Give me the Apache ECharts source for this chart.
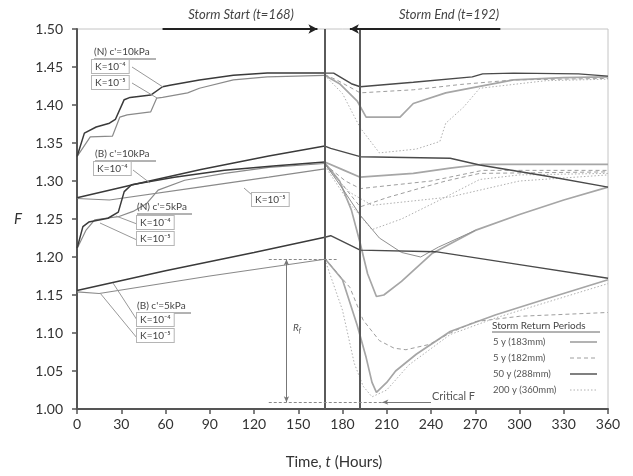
<!DOCTYPE html>
<html><head><meta charset="utf-8">
<script src="https://cdn.jsdelivr.net/npm/echarts@6/dist/echarts.min.js"></script>
<style>html,body{margin:0;padding:0;background:#fff}#c{width:633px;height:476px}</style>
</head><body><div id="c"></div>
<script>
// ---- axes ----
const xMin = 0, xMax = 360, xStep = 30;
const yMin = 1.0, yMax = 1.5, yStep = 0.05;
const stormStart = 168, stormEnd = 192;
const stormNames = ['5 y (183mm)', '5 y (182mm)', '50 y (288mm)', '200 y (360mm)'];

// ---- pre-storm (t = 0..168) ----
const n10K4 = [[0,1.332],[5,1.363],[13,1.371],[22,1.376],[26,1.381],[32,1.407],[36,1.410],[50,1.413],[58,1.424],[63,1.426],[83,1.433],[106,1.439],[129,1.442],[168,1.442]];
const n10K5 = [[0,1.332],[9,1.358],[24,1.359],[29,1.384],[34,1.387],[50,1.391],[54,1.409],[58,1.410],[75,1.416],[83,1.422],[106,1.433],[129,1.437],[168,1.439]];
const b10K4 = [[0,1.278],[40,1.296],[84,1.315],[130,1.333],[168,1.346]];
const b10K5 = [[0,1.277],[22,1.275],[83,1.292],[130,1.305],[168,1.316]];
const n5K4 = [[0,1.211],[4,1.240],[8,1.246],[21,1.251],[28,1.259],[32,1.286],[37,1.295],[66,1.305],[100,1.314],[135,1.320],[168,1.325]];
const n5K5 = [[0,1.211],[6,1.235],[12,1.249],[28,1.253],[38,1.260],[47,1.270],[55,1.288],[73,1.301],[100,1.310],[130,1.318],[168,1.323]];
const b5K4 = [[0,1.156],[60,1.182],[120,1.206],[168,1.226]];
const b5K5 = [[0,1.154],[15,1.152],[90,1.175],[168,1.197]];

// ---- post-storm (t = 168..360) ----
const n10S288 = [[168,1.442],[174,1.442],[186,1.428],[192,1.424],[228,1.430],[268,1.437],[275,1.441],[296,1.442],[340,1.441],[360,1.438]];
const n10S182 = [[168,1.440],[176,1.433],[192,1.416],[228,1.420],[260,1.427],[296,1.433],[360,1.435]];
const n10S183 = [[168,1.439],[178,1.428],[190,1.405],[196,1.384],[219,1.384],[228,1.402],[250,1.416],[296,1.433],[330,1.436],[360,1.437]];
const n10S360 = [[168,1.439],[180,1.415],[192,1.370],[205,1.337],[230,1.342],[246,1.352],[250,1.376],[262,1.397],[273,1.422],[318,1.432],[360,1.434]];

const b10S288 = [[168,1.346],[172,1.343],[192,1.332],[253,1.330],[273,1.321],[320,1.306],[360,1.292]];
const b10S183 = [[168,1.325],[180,1.315],[192,1.305],[228,1.310],[253,1.317],[275,1.322],[360,1.322]];
const b10S182 = [[168,1.322],[182,1.300],[192,1.290],[240,1.300],[275,1.314],[360,1.314]];
const b10S360 = [[168,1.320],[185,1.285],[200,1.268],[253,1.279],[300,1.300],[360,1.308]];

const n5S183 = [[168,1.324],[178,1.300],[186,1.262],[192,1.218],[197,1.178],[203,1.148],[208,1.150],[220,1.168],[241,1.205],[270,1.235],[300,1.256],[330,1.275],[360,1.292]];
const n5S288 = [[168,1.323],[180,1.290],[192,1.255],[205,1.225],[220,1.206],[233,1.200],[245,1.213],[270,1.235]];
const n5S182 = [[168,1.322],[180,1.295],[192,1.266],[210,1.278],[228,1.288],[250,1.300],[273,1.310],[360,1.312]];
const n5S360 = [[168,1.320],[185,1.270],[200,1.236],[220,1.250],[246,1.275],[273,1.302],[300,1.308],[360,1.310]];

const b5S288 = [[168,1.226],[172,1.228],[192,1.209],[243,1.207],[300,1.190],[360,1.172]];
const b5S183 = [[168,1.198],[180,1.170],[190,1.110],[196,1.068],[200,1.035],[203,1.022],[210,1.035],[216,1.050],[230,1.072],[253,1.102],[284,1.124],[320,1.146],[360,1.170]];
const b5S182 = [[168,1.198],[185,1.160],[194,1.117],[205,1.090],[215,1.080],[223,1.078],[239,1.085],[253,1.100],[270,1.115],[300,1.122],[360,1.127]];
const b5S360 = [[168,1.197],[180,1.130],[188,1.060],[194,1.030],[200,1.016],[210,1.025],[225,1.058],[253,1.098],[284,1.120],[360,1.165]];

// annotation values
const rfTop = 1.197, criticalF = 1.009, rfT = 142;

const FONT = 'Lato, "DejaVu Sans", sans-serif';
const ST = {
  k4:   {color:'#3a3a3a', width:1.5, type:'solid'},
  k5:   {color:'#8a8a8a', width:1.2, type:'solid'},
  s183: {color:'#a6a6a6', width:1.7, type:'solid'},
  s182: {color:'#9e9e9e', width:1, type:[4,3]},
  s288: {color:'#4a4a4a', width:1.4, type:'solid'},
  s288g:{color:'#8f8f8f', width:1, type:'solid'},
  s360: {color:'#b0b0b0', width:1, type:[1.5,2]}
};
function ln(name, data, st, z) {
  return {name, type:'line', data, symbol:'none', showSymbol:false, smooth:false,
    lineStyle:{color:st.color, width:st.width, type:st.type}, itemStyle:{color:st.color},
    z: z || 2, silent:true, animation:false};
}

const series = [
  ln('b5S183', b5S183, ST.s183), ln('n5S183', n5S183, ST.s183), ln('n10S183', n10S183, ST.s183), ln('b10S183', b10S183, ST.s183),
  ln('b5S182', b5S182, ST.s182), ln('n5S182', n5S182, ST.s182), ln('n10S182', n10S182, ST.s182), ln('b10S182', b10S182, ST.s182),
  ln('b5S360', b5S360, ST.s360), ln('n5S360', n5S360, ST.s360), ln('n10S360', n10S360, ST.s360), ln('b10S360', b10S360, ST.s360),
  ln('n5S288', n5S288, ST.s288g),
  ln('b5S288', b5S288, ST.s288, 3), ln('n10S288', n10S288, ST.s288, 3), ln('b10S288', b10S288, ST.s288, 3),
  ln('n10K5', n10K5, ST.k5), ln('b10K5', b10K5, ST.k5), ln('n5K5', n5K5, ST.k5), ln('b5K5', b5K5, ST.k5),
  ln('n10K4', n10K4, ST.k4, 3), ln('b10K4', b10K4, ST.k4, 3), ln('n5K4', n5K4, ST.k4, 3),
  Object.assign(ln('b5K4', b5K4, ST.k4, 3), {
    markLine: {
      silent:true, animation:false, symbol:'none', label:{show:false},
      lineStyle:{color:'#5a5a5a', width:2, type:'solid'},
      data: [
        {xAxis: stormStart}, {xAxis: stormEnd},
        [{coord:[58, yMax], symbol:'none', lineStyle:{color:'#222', width:2}}, {coord:[163, yMax], symbol:'arrow', symbolSize:[7,9]}],
        [{coord:[287, yMax], symbol:'none', lineStyle:{color:'#222', width:2}}, {coord:[185, yMax], symbol:'arrow', symbolSize:[7,9]}],
        [{coord:[rfT, rfTop], symbol:'arrow', symbolSize:[4,6], lineStyle:{color:'#777', width:1}}, {coord:[rfT, criticalF], symbol:'arrow', symbolSize:[4,6]}],
        [{coord:[130, rfTop], lineStyle:{color:'#888', width:1, type:[3,2]}}, {coord:[176, rfTop]}],
        [{coord:[130, criticalF], lineStyle:{color:'#888', width:1, type:[3,2]}}, {coord:[207, criticalF]}],
        [{coord:[207, criticalF], symbol:'arrow', symbolSize:[4,6], lineStyle:{color:'#777', width:1}}, {coord:[240, criticalF], symbol:'none'}]
      ]
    }
  })
];

const chart = echarts.init(document.getElementById('c'), null, {renderer:'canvas'});
function T(x, y, text, extra) {
  return {type:'text', x, y, silent:true, z:100,
    style: Object.assign({text, font:'10px ' + FONT, fill:'#444'}, extra || {})};
}
function L(x1, y1, x2, y2, color, w, dash) {
  const st = {stroke: color || '#999', lineWidth: w || 1};
  if (dash) st.lineDash = dash;
  return {type:'line', silent:true, z:99, shape:{x1, y1, x2, y2}, style:st};
}
const boxStyle = {backgroundColor:'#fff', borderColor:'#b5b5b5', borderWidth:1, padding:[2,3,1,3], font:'10px ' + FONT, fill:'#444'};
const graphics = [
  T(241, 15, 'Storm Start (t=168)', {font:'italic 13px ' + FONT, fill:'#444', align:'center', verticalAlign:'middle'}),
  T(449, 15, 'Storm End (t=192)', {font:'italic 13px ' + FONT, fill:'#444', align:'center', verticalAlign:'middle'}),
  // (N) c'=10kPa
  L(132, 67, 163, 87), L(132, 83, 157, 98),
  T(94, 47, "(N) c'=10kPa", {font:'10px ' + FONT}), L(94, 59, 156, 59, '#666'),
  T(92, 60, 'K=10⁻⁴', boxStyle), T(92, 76, 'K=10⁻⁵', boxStyle),
  // (B) c'=10kPa
  L(133, 170, 150, 183),
  T(95, 149, "(B) c'=10kPa", {font:'10px ' + FONT}), L(95, 161, 156, 161, '#666'),
  T(94, 162, 'K=10⁻⁴', boxStyle),
  // K=10^-5 (B)
  L(252, 195, 244, 188),
  T(252, 193, 'K=10⁻⁵', boxStyle),
  // (N) c'=5kPa
  L(137, 224, 116, 216), L(137, 240, 100, 223),
  T(137, 202, "(N) c'=5kPa", {font:'10px ' + FONT}), L(137, 214, 192, 214, '#666'),
  T(137, 216, 'K=10⁻⁴', boxStyle), T(137, 232, 'K=10⁻⁵', boxStyle),
  // (B) c'=5kPa
  L(137, 320, 113, 283), L(137, 338, 100, 293),
  T(137, 301, "(B) c'=5kPa", {font:'10px ' + FONT}), L(137, 313, 191, 313, '#666'),
  T(137, 313, 'K=10⁻⁴', boxStyle), T(137, 329, 'K=10⁻⁵', boxStyle),
  // Rf and Critical F
  {type:'text', x:293, y:322, silent:true, z:100, style:{text:'{i|R}{s|f}', rich:{i:{font:'italic 10px ' + FONT, fill:'#555'}, s:{font:'italic 7px ' + FONT, fill:'#555', padding:[5,0,0,0]}}}},
  T(432, 391, 'Critical F', {font:'11px ' + FONT, fill:'#555'}),
  // legend
  T(492, 321, 'Storm Return Periods', {font:'10px ' + FONT, fill:'#444'}), L(492, 332, 600, 332, '#666'),
  // axis names
  T(18, 219, 'F', {font:'italic 15px ' + FONT, fill:'#333', align:'center', verticalAlign:'middle'}),
  {type:'text', x:334, y:462, silent:true, z:100, style:{text:'{n|Time, }{i|t}{n| (Hours)}', align:'center', verticalAlign:'middle',
    rich:{n:{font:'15px ' + FONT, fill:'#333'}, i:{font:'italic 15px ' + FONT, fill:'#333'}}}}
];
// legend rows: name + line sample in that storm's style
const legendStyles = [ST.s183, ST.s182, ST.s288, ST.s360];
const legendRowY = [342, 358, 374, 390];
stormNames.forEach((nm, i) => {
  const st = legendStyles[i];
  graphics.push(T(493, legendRowY[i], nm, {font:'9.5px ' + FONT, fill:'#555', verticalAlign:'middle'}));
  graphics.push(L(570, legendRowY[i], 597, legendRowY[i], st.color, st.width, Array.isArray(st.type) ? st.type : null));
});

chart.setOption({
  animation:false,
  backgroundColor:'#fff',
  textStyle:{fontFamily: FONT},
  grid:{left:77, right:25, top:29, bottom:67, show:true, borderColor:'#c4c4c4', borderWidth:1},
  xAxis:{type:'value', min:xMin, max:xMax, interval:xStep,
    axisLine:{show:true, onZero:false, lineStyle:{color:'#555', width:2}},
    axisTick:{show:true, length:5, lineStyle:{color:'#555', width:1.5}},
    axisLabel:{margin:8, fontSize:14, color:'#333', fontFamily:FONT},
    splitLine:{show:false}},
  yAxis:{type:'value', min:yMin, max:yMax, interval:yStep,
    axisLine:{show:true, onZero:false, lineStyle:{color:'#555', width:2}},
    axisTick:{show:true, length:5, lineStyle:{color:'#555', width:1.5}},
    axisLabel:{margin:14, fontSize:14, color:'#333', fontFamily:FONT, formatter: v => v.toFixed(2)},
    splitLine:{show:false}},
  graphic: graphics,
  series
});
</script>
</body></html>
